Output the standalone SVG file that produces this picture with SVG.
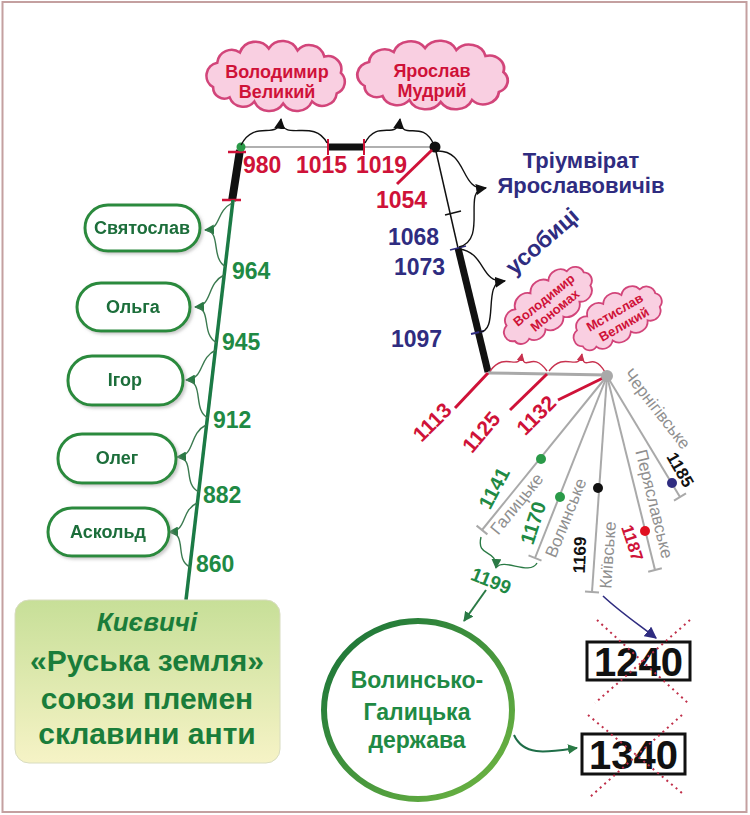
<svg xmlns="http://www.w3.org/2000/svg" width="750" height="815" viewBox="0 0 750 815">
<style>
  .sans{font-family:"Liberation Sans","DejaVu Sans",Arial,sans-serif;font-weight:bold}
  .red{fill:#cf1238}
  .navy{fill:#2f2c80}
  .grn{fill:#1f8a44}
  .dgrn{fill:#1c6e3a}
  .gray{fill:#8f8f8f}
  .blk{fill:#111}
  .pill{fill:#fff;stroke:#2c8a3e;stroke-width:3}
  .cloud{fill:#f9cfe1;stroke:#d2457a;stroke-width:2.5}
  .cl{font-size:18px;text-anchor:middle}
  .scl{font-size:13px;text-anchor:middle}
  .ptxt{font-size:18px;text-anchor:middle;dominant-baseline:central}
  .date{font-size:23px}
  .rot{text-anchor:middle;dominant-baseline:central}
  .fan{stroke:#a9a9a9;stroke-width:2;fill:none}
  .thin{fill:none;stroke-width:1.4}
</style>
<defs>
  <path id="cloud" d="M -62,10 A 13 13 0 0 1 -58,-14 A 14 14 0 0 1 -36,-24 A 16 16 0 0 1 -8,-28 A 16 16 0 0 1 20,-26 A 15 15 0 0 1 46,-20 A 13 13 0 0 1 62,-4 A 12 12 0 0 1 58,16 A 14 14 0 0 1 34,24 A 16 16 0 0 1 6,26 A 16 16 0 0 1 -22,24 A 14 14 0 0 1 -46,20 A 11 11 0 0 1 -62,10 Z"/>
  <marker id="aB" markerUnits="userSpaceOnUse" markerWidth="11" markerHeight="11" viewBox="0 0 10 10" refX="9" refY="5" orient="auto"><path d="M0,0 L10,5 L0,10 z" fill="#111"/></marker>
  <marker id="aG" markerUnits="userSpaceOnUse" markerWidth="10" markerHeight="10" viewBox="0 0 10 10" refX="9" refY="5" orient="auto"><path d="M0,0 L10,5 L0,10 z" fill="#2a7a45"/></marker>
  <marker id="aR" markerUnits="userSpaceOnUse" markerWidth="8" markerHeight="8" viewBox="0 0 10 10" refX="9" refY="5" orient="auto"><path d="M0,0 L10,5 L0,10 z" fill="#c8324f"/></marker>
  <marker id="aN" markerUnits="userSpaceOnUse" markerWidth="12" markerHeight="12" viewBox="0 0 10 10" refX="9" refY="5" orient="auto"><path d="M0,0 L10,5 L0,10 z" fill="#2f2c80"/></marker>
  <linearGradient id="boxg" x1="0" y1="0" x2="0" y2="1"><stop offset="0" stop-color="#c7df98"/><stop offset="1" stop-color="#f6f3c6"/></linearGradient>
  <linearGradient id="circg" x1="0" y1="0" x2="1" y2="1"><stop offset="0" stop-color="#157038"/><stop offset="1" stop-color="#72b842"/></linearGradient>
  <filter id="sh" x="-10%" y="-10%" width="130%" height="140%"><feDropShadow dx="2" dy="2" stdDeviation="1.5" flood-color="#999" flood-opacity="0.5"/></filter>
</defs>

<rect x="2.5" y="2" width="744" height="810" fill="#fff" stroke="#c4a0a0" stroke-width="2"/>

<!-- connectors -->
<g id="connectors">
  <line x1="241" y1="147" x2="435" y2="147" stroke="#b0b0b0" stroke-width="2"/>
  <line x1="328" y1="147" x2="364" y2="147" stroke="#111" stroke-width="7"/>
  <line x1="328" y1="139" x2="328" y2="155" stroke="#cf1238" stroke-width="2"/>
  <line x1="364" y1="139" x2="364" y2="155" stroke="#cf1238" stroke-width="2"/>
  <line x1="240" y1="150" x2="232" y2="201" stroke="#111" stroke-width="8"/>
  <line x1="228" y1="152" x2="246" y2="152" stroke="#cf1238" stroke-width="2.5"/>
  <line x1="222" y1="200" x2="241" y2="200" stroke="#cf1238" stroke-width="2.5"/>
  <line x1="233" y1="200" x2="186" y2="600" stroke="#1b7a45" stroke-width="3.5"/>
  <circle cx="241" cy="147" r="4.5" fill="#2a9a48"/>
  <circle cx="435" cy="147" r="5.5" fill="#111"/>
  <path class="thin" stroke="#111" d="M241,145 C255,118 278,142 281,119" marker-end="url(#aB)"/>
  <path class="thin" stroke="#111" d="M327,143 C314,118 284,142 281,121"/>
  <path class="thin" stroke="#111" d="M365,143 C378,118 397,142 400,119" marker-end="url(#aB)"/>
  <path class="thin" stroke="#111" d="M434,145 C422,118 403,142 400,121"/>
  <line x1="432" y1="150" x2="397" y2="184" stroke="#cf1238" stroke-width="3"/>
  <line x1="435" y1="147" x2="458" y2="248" stroke="#111" stroke-width="1.5"/>
  <line x1="458" y1="248" x2="488" y2="372" stroke="#111" stroke-width="7"/>
  <line x1="445" y1="215" x2="461" y2="211" stroke="#111" stroke-width="1.8"/>
  <line x1="450" y1="250" x2="466" y2="246" stroke="#2f2c80" stroke-width="1.8"/>
  <line x1="471" y1="334" x2="484" y2="331" stroke="#2f2c80" stroke-width="1.8"/>
  <path class="thin" stroke="#111" d="M437,151 C468,150 460,192 486,188" marker-end="url(#aB)"/>
  <path class="thin" stroke="#111" d="M459,247 C488,240 462,190 484,188"/>
  <path class="thin" stroke="#111" d="M459,249 C486,252 480,284 505,281" marker-end="url(#aB)"/>
  <path class="thin" stroke="#111" d="M479,332 C500,332 482,282 503,281"/>
  <line x1="488" y1="373" x2="607" y2="375" stroke="#a9a9a9" stroke-width="3"/>
  <path class="thin" stroke="#c8324f" d="M490,371 C506,350 518,373 522,354" marker-end="url(#aR)"/>
  <path class="thin" stroke="#c8324f" d="M547,371 C532,350 525,373 522,356"/>
  <path class="thin" stroke="#c8324f" d="M549,371 C565,350 578,373 582,354" marker-end="url(#aR)"/>
  <path class="thin" stroke="#c8324f" d="M605,372 C592,350 585,373 582,356"/>
  <line x1="488" y1="373" x2="455" y2="408" stroke="#cf1238" stroke-width="3"/>
  <line x1="547" y1="374" x2="510" y2="410" stroke="#cf1238" stroke-width="3"/>
  <line x1="603" y1="378" x2="558" y2="400" stroke="#cf1238" stroke-width="3"/>
  <line class="fan" x1="607" y1="376" x2="482" y2="530"/>
  <line class="fan" x1="476.6" y1="525.6" x2="487.4" y2="534.4"/>
  <line class="fan" x1="607" y1="376" x2="535" y2="558"/>
  <line class="fan" x1="528.5" y1="555.4" x2="541.5" y2="560.6"/>
  <line class="fan" x1="607" y1="376" x2="592" y2="592"/>
  <line class="fan" x1="585" y1="591.5" x2="599" y2="592.5"/>
  <line class="fan" x1="607" y1="376" x2="655" y2="570"/>
  <line class="fan" x1="648.2" y1="571.7" x2="661.8" y2="568.3"/>
  <line class="fan" x1="607" y1="376" x2="680" y2="497"/>
  <line class="fan" x1="674" y1="500.6" x2="686" y2="493.4"/>
  <circle cx="607" cy="376" r="6" fill="#a9a9a9"/>
  <circle cx="541" cy="459" r="5" fill="#2a9a48"/>
  <circle cx="560" cy="497" r="5" fill="#2a9a48"/>
  <circle cx="598" cy="488" r="5" fill="#111"/>
  <circle cx="645" cy="531" r="5" fill="#e01020"/>
  <circle cx="672" cy="483" r="5" fill="#2f2c80"/>
  <path class="thin" stroke="#2a7a45" d="M481,537 C476,558 497,548 496,568" marker-end="url(#aG)"/>
  <path class="thin" stroke="#2a7a45" d="M537,563 C530,576 504,558 497,567"/>
  <path fill="none" stroke="#2a7a45" stroke-width="2" d="M486,590 L464,621" marker-end="url(#aG)"/>
  <path fill="none" stroke="#1f6e48" stroke-width="2" d="M514,735 C524,757 548,752 577,748" marker-end="url(#aG)"/>
  <path fill="none" stroke="#2f2c80" stroke-width="1.6" d="M603,596 C620,612 638,624 656,638" marker-end="url(#aN)"/>
  <g class="thin" stroke="#3b7a50">
    <path d="M232,203 C215,212 222,229 205,230" marker-end="url(#aG)"/>
    <path d="M226,267 C210,258 222,231 205,230"/>
    <path d="M224,275 C206,284 213,306 195,307" marker-end="url(#aG)"/>
    <path d="M217,343 C200,334 213,308 195,307"/>
    <path d="M216,350 C198,358 205,379 186,380" marker-end="url(#aG)"/>
    <path d="M208,418 C192,410 205,381 186,380"/>
    <path d="M206,425 C188,434 196,456 177,457" marker-end="url(#aG)"/>
    <path d="M199,492 C182,484 196,458 177,457"/>
    <path d="M197,503 C180,511 188,531 169,532" marker-end="url(#aG)"/>
    <path d="M190,567 C174,560 188,533 169,532"/>
  </g>
</g>

<!-- dates -->
<g id="dates" class="sans">
  <text class="red date" x="243" y="173">980</text>
  <text class="red date" x="296" y="173">1015</text>
  <text class="red date" x="356" y="173">1019</text>
  <text class="red date" x="376" y="208">1054</text>
  <text class="navy date" x="388" y="245">1068</text>
  <text class="navy date" x="394" y="275">1073</text>
  <text class="navy date" x="391" y="347">1097</text>
  <text class="grn date" x="232" y="279">964</text>
  <text class="grn date" x="222" y="350">945</text>
  <text class="grn date" x="213" y="428">912</text>
  <text class="grn date" x="203" y="503">882</text>
  <text class="grn date" x="196" y="572">860</text>
  <text class="red rot" font-size="21" transform="translate(432,422) rotate(-45)">1113</text>
  <text class="red rot" font-size="21" transform="translate(481,432) rotate(-50)">1125</text>
  <text class="red rot" font-size="21" transform="translate(536,415) rotate(-45)">1132</text>
  <text class="grn rot" font-size="20" transform="translate(494,488) rotate(-62)">1141</text>
  <text class="grn rot" font-size="20" transform="translate(533,523) rotate(-72)">1170</text>
  <text class="blk rot" font-size="17" transform="translate(580,555) rotate(-88)">1169</text>
  <text class="red rot" font-size="17" transform="translate(632,543) rotate(72)">1187</text>
  <text class="blk rot" font-size="17" transform="translate(680,470) rotate(60)">1185</text>
  <text class="grn rot" font-size="19" transform="translate(491,581) rotate(22)">1199</text>
</g>

<!-- labels -->
<g id="labels" class="sans">
  <text class="navy" font-size="22" x="581" y="168" text-anchor="middle">Тріумвірат</text>
  <text class="navy" font-size="22" x="581" y="193" text-anchor="middle">Ярославовичів</text>
  <text class="navy rot" font-size="23" transform="translate(542,241) rotate(-41)">усобиці</text>
  <g class="gray" font-weight="normal" font-size="17">
    <text class="rot" transform="translate(517,504) rotate(-51)">Галицьке</text>
    <text class="rot" transform="translate(566,518) rotate(-68)">Волинське</text>
    <text class="rot" transform="translate(608,555) rotate(-86)">Київське</text>
    <text class="rot" transform="translate(654,504) rotate(76)">Перяславське</text>
    <text class="rot" transform="translate(657,409) rotate(52)">Чернігівське</text>
  </g>
</g>

<!-- clouds -->
<g id="cloud-volodymyr-velykyi">
  <use href="#cloud" class="cloud" transform="translate(277,77) scale(1.03,1.02)"/>
  <text class="sans red cl" x="277" y="78">Володимир</text>
  <text class="sans red cl" x="277" y="98">Великий</text>
</g>
<g id="cloud-yaroslav">
  <use href="#cloud" class="cloud" transform="translate(434,76) scale(1.12,1)"/>
  <text class="sans red cl" x="432" y="77">Ярослав</text>
  <text class="sans red cl" x="432" y="97">Мудрий</text>
</g>
<g id="cloud-monomakh" transform="translate(548,305) rotate(-39)">
  <use href="#cloud" class="cloud" transform="scale(0.78,0.72)" stroke-width="3.2"/>
  <text class="sans red scl" x="0" y="-2">Володимир</text>
  <text class="sans red scl" x="2" y="13">Мономах</text>
</g>
<g id="cloud-mstyslav" transform="translate(618,318) rotate(-30)">
  <use href="#cloud" class="cloud" transform="scale(0.72,0.7)" stroke-width="3.2"/>
  <text class="sans red scl" x="0" y="-2">Мстислав</text>
  <text class="sans red scl" x="2" y="13">Великий</text>
</g>

<!-- left nodes -->
<g id="node-sviatoslav" filter="url(#sh)">
  <rect class="pill" x="85" y="205" width="115" height="46" rx="23"/>
  <text class="sans dgrn ptxt" x="142" y="228">Святослав</text>
</g>
<g id="node-olha" filter="url(#sh)">
  <rect class="pill" x="77" y="283" width="113" height="48" rx="24"/>
  <text class="sans dgrn ptxt" x="133" y="307">Ольга</text>
</g>
<g id="node-ihor" filter="url(#sh)">
  <rect class="pill" x="68" y="356" width="115" height="49" rx="24"/>
  <text class="sans dgrn ptxt" x="125" y="380">Ігор</text>
</g>
<g id="node-oleh" filter="url(#sh)">
  <rect class="pill" x="58" y="434" width="118" height="49" rx="24"/>
  <text class="sans dgrn ptxt" x="117" y="458">Олег</text>
</g>
<g id="node-askold" filter="url(#sh)">
  <rect class="pill" x="48" y="508" width="121" height="48" rx="24"/>
  <text class="sans dgrn ptxt" x="108" y="532">Аскольд</text>
</g>

<!-- origin box -->
<g id="node-origins">
  <rect x="15" y="600" width="265" height="163" rx="14" fill="url(#boxg)" stroke="#d8dcc0" stroke-width="1"/>
  <g class="sans" fill="#1a7d3a" text-anchor="middle">
    <text x="147" y="631" font-size="26" font-style="italic">Києвичі</text>
    <text x="147" y="671" font-size="30">«Руська земля»</text>
    <text x="147" y="709" font-size="30">союзи племен</text>
    <text x="147" y="744" font-size="30">склавини анти</text>
  </g>
</g>

<!-- state circle -->
<g id="node-state">
  <ellipse cx="418" cy="710" rx="94" ry="89" fill="#fff" stroke="url(#circg)" stroke-width="6"/>
  <g class="sans" fill="#1f8a44" text-anchor="middle" font-size="23">
    <text x="417" y="688">Волинсько-</text>
    <text x="417" y="720">Галицька</text>
    <text x="417" y="748">держава</text>
  </g>
</g>

<!-- end years -->
<g id="node-1240">
  <rect x="587" y="642" width="103" height="38" fill="#fff" stroke="#111" stroke-width="3"/>
  <text class="sans" x="638.5" y="676" font-size="40" text-anchor="middle" fill="#111">1240</text>
  <g stroke="#c0304a" stroke-width="2" stroke-dasharray="2 4">
    <line x1="597" y1="620" x2="688" y2="703"/>
    <line x1="690" y1="620" x2="595" y2="703"/>
  </g>
</g>
<g id="node-1340">
  <rect x="582" y="734" width="103" height="40" fill="#fff" stroke="#111" stroke-width="3"/>
  <text class="sans" x="633.5" y="769" font-size="40" text-anchor="middle" fill="#111">1340</text>
  <g stroke="#c0304a" stroke-width="2" stroke-dasharray="2 4">
    <line x1="588" y1="715" x2="682" y2="793"/>
    <line x1="682" y1="715" x2="590" y2="797"/>
  </g>
</g>
</svg>
